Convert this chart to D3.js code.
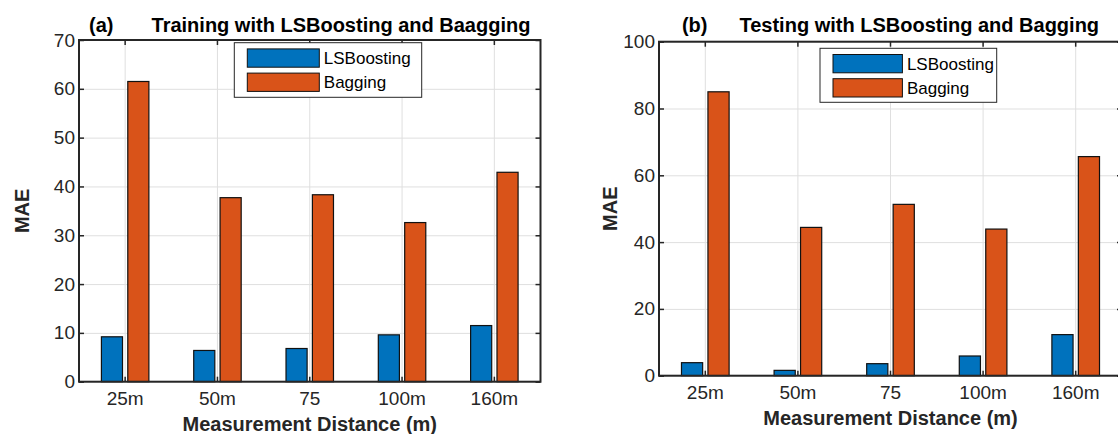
<!DOCTYPE html>
<html>
<head>
<meta charset="utf-8">
<script src="https://cdn.jsdelivr.net/npm/d3@7"></script>
<style>
  body { margin: 0; background: #fff; }
  svg { display: block; font-family: "Liberation Sans", Arial, sans-serif; }
</style>
</head>
<body>
<div id="chart"></div>
<script>
// data
var categories = ["25m", "50m", "75", "100m", "160m"];
var seriesNames = ["LSBoosting", "Bagging"];
var trainLSBoost = [9.2, 6.4, 6.8, 9.6, 11.5];
var trainBagging = [61.5, 37.7, 38.3, 32.6, 42.9];
var testLSBoost = [3.9, 1.6, 3.6, 5.9, 12.3];
var testBagging = [85.0, 44.4, 51.3, 43.9, 65.6];
var trainTicks = [0, 10, 20, 30, 40, 50, 60, 70];
var testTicks = [0, 20, 40, 60, 80, 100];

var colors = ["#0072BD", "#D95319"];
var axisColor = "#262626";
var gridColor = "#dfdfdf";

var width = 1118, height = 434;

// layout of each subplot (pixels)
var panels = [
  {tag: "(a)", title: "Training with LSBoosting and Baagging", gap: 38,
   values: [trainLSBoost, trainBagging], ticks: trainTicks,
   left: 79, right: 540.5, top: 40, bottom: 381.7, yLabelX: 29,
   legend: {x: 234.3, y: 42.7, w: 187.4, h: 54.6, sw: 72}},
  {tag: "(b)", title: "Testing with LSBoosting and Bagging", gap: 32,
   values: [testLSBoost, testBagging], ticks: testTicks,
   left: 659, right: 1122, top: 41.7, bottom: 375.7, yLabelX: 617,
   legend: {x: 820, y: 48.3, w: 176.7, h: 54, sw: 69.4}}
];

var svg = d3.select("#chart")
  .append("svg")
  .attr("width", width)
  .attr("height", height);

panels.forEach(drawPanel);

function drawPanel(p) {
  var w = p.right - p.left;
  var h = p.bottom - p.top;
  var g = svg.append("g").attr("transform", "translate(" + p.left + "," + p.top + ")");

  var x = d3.scaleBand().domain(categories).range([0, w]).padding(0);
  // grouped bars like matlab: group width .571 of a slot, bar width .8 of each sub band
  var xs = d3.scaleBand().domain(seriesNames)
    .range([-0.2857 * x.bandwidth(), 0.2857 * x.bandwidth()])
    .paddingInner(0.2).paddingOuter(0.1);
  var y = d3.scaleLinear().domain([0, d3.max(p.ticks)]).range([h, 0]);

  // grid
  g.append("g").attr("class", "grid")
    .call(d3.axisBottom(x).tickSize(-h).tickFormat(""))
    .attr("transform", "translate(0," + h + ")");
  g.append("g").attr("class", "grid")
    .call(d3.axisLeft(y).tickValues(p.ticks).tickSize(-w).tickFormat(""));
  g.selectAll(".grid .domain").remove();
  g.selectAll(".grid line").attr("stroke", gridColor).attr("stroke-width", 1);

  // bars
  var rows = categories.map(function(c, i) {
    return seriesNames.map(function(s, j) { return {cat: c, series: s, idx: j, value: p.values[j][i]}; });
  });
  var groups = g.selectAll(".group")
    .data(rows)
    .enter()
    .append("g")
    .attr("transform", function(d) { return "translate(" + (x(d[0].cat) + x.bandwidth() / 2) + ",0)"; });
  groups.selectAll("rect")
    .data(function(d) { return d; })
    .enter()
    .append("rect")
    .attr("x", function(d) { return xs(d.series); })
    .attr("width", xs.bandwidth())
    .attr("y", function(d) { return y(d.value); })
    .attr("height", function(d) { return h - y(d.value); })
    .attr("fill", function(d) { return colors[d.idx]; })
    .attr("stroke", "#111")
    .attr("stroke-width", 1.2);

  // axes with inward ticks
  var bottomAxis = g.append("g")
    .attr("transform", "translate(0," + h + ")")
    .call(d3.axisBottom(x).tickSizeInner(-5).tickSizeOuter(0).tickPadding(9.8));
  var leftAxis = g.append("g")
    .call(d3.axisLeft(y).tickValues(p.ticks).tickSizeInner(-5).tickSizeOuter(0).tickPadding(4));
  var topAxis = g.append("g")
    .call(d3.axisTop(x).tickSizeInner(-5).tickSizeOuter(0).tickFormat(""));
  var rightAxis = g.append("g")
    .attr("transform", "translate(" + w + ",0)")
    .call(d3.axisRight(y).tickValues(p.ticks).tickSizeInner(-5).tickSizeOuter(0).tickFormat(""));

  [bottomAxis, leftAxis, topAxis, rightAxis].forEach(function(a) {
    a.select(".domain").remove();
    a.selectAll("line").attr("stroke", axisColor).attr("stroke-width", 1.5);
    a.selectAll("text")
      .attr("fill", axisColor)
      .attr("font-size", 19)
      .attr("font-family", "Liberation Sans, Arial, sans-serif");
  });

  // frame
  g.append("rect")
    .attr("width", w)
    .attr("height", h)
    .attr("fill", "none")
    .attr("stroke", axisColor)
    .attr("stroke-width", 2);

  // axis labels
  g.append("text")
    .attr("x", w / 2)
    .attr("y", h + 49.3)
    .attr("text-anchor", "middle")
    .attr("font-size", 20)
    .attr("font-weight", "bold")
    .attr("fill", axisColor)
    .text("Measurement Distance (m)");

  svg.append("text")
    .attr("transform", "translate(" + p.yLabelX + "," + (p.top + h / 2) + ") rotate(-90)")
    .attr("text-anchor", "middle")
    .attr("font-size", 20)
    .attr("font-weight", "bold")
    .attr("fill", axisColor)
    .text("MAE");

  // title: "(a)" then a gap then the title text, centred over the plot
  var title = svg.append("text")
    .attr("x", p.left + w / 2)
    .attr("y", 31.5)
    .attr("text-anchor", "middle")
    .attr("font-size", 20)
    .attr("font-weight", "bold")
    .attr("fill", "#000");
  title.append("tspan").text(p.tag);
  title.append("tspan").attr("dx", p.gap).text(p.title);

  // legend
  var L = p.legend;
  var lg = svg.append("g").attr("transform", "translate(" + L.x + "," + L.y + ")");
  lg.append("rect")
    .attr("width", L.w)
    .attr("height", L.h)
    .attr("fill", "#fff")
    .attr("stroke", axisColor)
    .attr("stroke-width", 1);
  var item = lg.selectAll(".item")
    .data(seriesNames)
    .enter()
    .append("g")
    .attr("transform", function(d, i) { return "translate(13," + (6.2 + i * 24.2) + ")"; });
  item.append("rect")
    .attr("width", L.sw)
    .attr("height", 18.3)
    .attr("fill", function(d, i) { return colors[i]; })
    .attr("stroke", "#111")
    .attr("stroke-width", 1);
  item.append("text")
    .attr("x", L.sw + 4.5)
    .attr("y", 9.2)
    .attr("dy", "0.35em")
    .attr("font-size", 17)
    .attr("fill", "#000")
    .text(function(d) { return d; });
}
</script>
</body>
</html>
